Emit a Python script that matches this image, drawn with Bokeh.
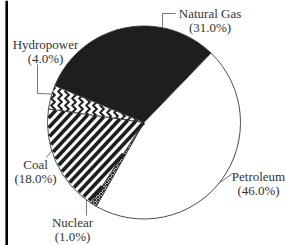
import math
import numpy as np
from bokeh.plotting import figure
from bokeh.models import Range1d, Span
from bokeh.core.properties import value
from bokeh.embed import file_html
from bokeh.resources import INLINE

# ---- data ----
categories = ["Natural Gas", "Hydropower", "Coal", "Nuclear", "Petroleum"]
shares = [31.0, 4.0, 18.0, 1.0, 46.0]   # percent

# ---- layout / style ----
W, H = 286, 245
CX, CY, R = 143.5, 123.0, 96.5          # pie centre and radius (plot units = px)
START_DEG = 46.0                          # first slice starts here, counter-clockwise
styles = {
    "Natural Gas": dict(fill_color="#1e1e1e"),
    "Hydropower": dict(fill_color="white", hatch_pattern="vertical_wave", hatch_scale=7, hatch_weight=2.0),
    "Coal": dict(fill_color="white", stripes=(47.0, 6.6, 3.6)),   # angle, period, width
    "Nuclear": dict(fill_color="white", hatch_pattern="diagonal_cross", hatch_scale=3, hatch_weight=1.2),
    "Petroleum": dict(fill_color="white"),
}
label_offsets = {
    "Natural Gas": (66, 102),
    "Hydropower": (-98.5, 71),
    "Coal": (-108.5, -49),
    "Nuclear": (-71.5, -107),
    "Petroleum": (114.5, -60.5),
}
leaders = {
    "Natural Gas": (78.9, [(18.5, 109), (31.5, 109)]),
    "Hydropower": (162.8, [(-106.5, 29), (-106.5, 58)]),
    "Coal": (197.0, [(-97.5, -35)]),
    "Nuclear": (233.4, [(-57.5, -93)]),
    "Petroleum": (-39.0, [(88.5, -51)]),
}
LINE_GAP = 14
INK = "#1e1e1e"


def cross(u, v):
    return u[0] * v[1] - u[1] * v[0]


def sector_stripes(a0, a1, theta_deg, period, r):
    th = math.radians(theta_deg)
    d = (math.cos(th), math.sin(th))
    n = (-math.sin(th), math.cos(th))
    u0 = (math.cos(a0), math.sin(a0))
    u1 = (math.cos(a1), math.sin(a1))
    x0s, y0s, x1s, y1s = [], [], [], []
    for c in np.arange(-r + period / 2, r, period):
        s = math.sqrt(max(r * r - c * c, 0.0))
        tmin, tmax = -s, s
        ok = True
        for u, sign in ((u0, 1.0), (u1, -1.0)):
            A = sign * cross(u, d)
            B = sign * c * cross(u, n)
            if abs(A) < 1e-12:
                if B < 0:
                    ok = False
            elif A > 0:
                tmin = max(tmin, -B / A)
            else:
                tmax = min(tmax, -B / A)
        if ok and tmax - tmin > 0.5:
            bx, by = CX + n[0] * c, CY + n[1] * c
            x0s.append(bx + d[0] * tmin); y0s.append(by + d[1] * tmin)
            x1s.append(bx + d[0] * tmax); y1s.append(by + d[1] * tmax)
    return x0s, y0s, x1s, y1s


p = figure(width=W, height=H, output_backend="svg", toolbar_location=None,
           x_range=Range1d(0, W), y_range=Range1d(0, H), min_border=0)
p.axis.visible = False
p.grid.visible = False
p.outline_line_color = None
p.background_fill_color = "white"
p.border_fill_color = "white"

total = sum(shares)
cum = 0.0
stripe_jobs = []
for cat, v in zip(categories, shares):
    a0 = math.radians(START_DEG + 360.0 * cum / total)
    a1 = math.radians(START_DEG + 360.0 * (cum + v) / total)
    cum += v
    st = styles[cat]
    kw = dict(fill_color=st["fill_color"], line_color="#3a3a3a", line_width=0.9)
    if st.get("hatch_pattern"):
        kw.update(hatch_pattern=st["hatch_pattern"], hatch_scale=st["hatch_scale"],
                  hatch_weight=st["hatch_weight"], hatch_color=INK)
    p.wedge(x=CX, y=CY, radius=R, start_angle=a0, end_angle=a1, direction="anticlock", **kw)
    if st.get("stripes"):
        stripe_jobs.append((a0, a1) + st["stripes"])

for a0, a1, ang, per, wid in stripe_jobs:
    x0, y0, x1, y1 = sector_stripes(a0, a1, ang, per, R - 1.0)
    p.segment(x0=x0, y0=y0, x1=x1, y1=y1, line_color=INK, line_width=wid, line_cap="butt")

font = value("Liberation Serif")
for cat, v in zip(categories, shares):
    dx, dy = label_offsets[cat]
    p.text(x=[CX + dx, CX + dx], y=[CY + dy + LINE_GAP / 2, CY + dy - LINE_GAP / 2],
           text=[cat, "(%.1f%%)" % v], text_font=font, text_font_size="13px",
           text_align="center", text_baseline="middle", text_color="#333333")
    ang, pts = leaders[cat]
    xs = [CX + R * math.cos(math.radians(ang))] + [CX + px for px, _ in pts]
    ys = [CY + R * math.sin(math.radians(ang))] + [CY + py for _, py in pts]
    p.line(xs, ys, line_color="#666666", line_width=0.9)

# scanned-page frame edge on the left
p.add_layout(Span(location=6.2, dimension="height", line_color="black", line_width=2.6))

open("out.html", "w").write(file_html(p, INLINE))
